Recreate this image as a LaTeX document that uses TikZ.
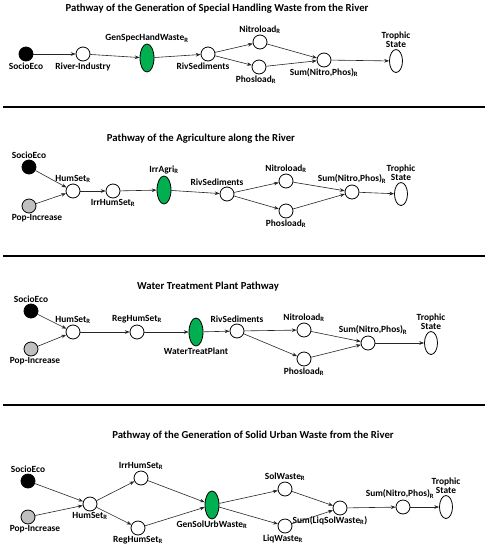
\documentclass[tikz,border=0pt]{standalone}
\usepackage{fontspec}
\setmainfont{Carlito}
\usepackage{xcolor}
\usetikzlibrary{arrows.meta,shapes.geometric}
\definecolor{keygreen}{RGB}{0,176,80}
\newcommand{\sbR}{\textsubscript{R}}
\tikzset{
  blank/.style={circle, draw=black, thick, fill=white, minimum size=14pt, inner sep=0pt},
  driver/.style={blank, fill=black},
  popnode/.style={blank, fill=black!25},
  keynode/.style={ellipse, draw=black, thick, fill=keygreen,
    minimum width=14pt, minimum height=28pt, inner sep=0pt},
  trophic/.style={ellipse, draw=black, thick, fill=white,
    minimum width=13pt, minimum height=23pt, inner sep=0pt},
  lab/.style={font=\bfseries\fontsize{9.4}{9.6}\selectfont, align=center, inner sep=1pt},
  ttl/.style={font=\bfseries\fontsize{10.7}{12}\selectfont},
  arr/.style={-{Stealth[length=1.7mm]}, semithick, black!85},
  sep/.style={line width=1.3pt},
}

\begin{document}
\begin{tikzpicture}[x=1pt, y=-1pt]
  \useasboundingbox (0,0) rectangle (490,550);
  % special handling waste
  \node[ttl] (t1) at (217,9) {Pathway of the Generation of Special Handling Waste from the River};
  \node[driver, label={[lab]below:SocioEco}] (se1) at (26,54) {};
  \node[blank, label={[lab]below:River-Industry}] (ri1) at (83,54) {};
  \node[keynode, label={[lab]above:GenSpecHandWaste\sbR}] (gs1) at (147,58) {};
  \node[blank, label={[lab, xshift=-5pt]below:RivSediments}] (rs1) at (208,54) {};
  \node[blank, label={[lab]above:Nitroload\sbR}] (ni1) at (260,42) {};
  \node[blank, label={[lab, xshift=-3pt]below:Phosload\sbR}] (ph1) at (259,67) {};
  \node[blank, label={[lab]below:Sum(Nitro,Phos)\sbR}] (su1) at (324,60) {};
  \node[trophic, label={[lab]above:Trophic\\State}] (tr1) at (396,61) {};
  \draw[arr] (se1) -- (ri1);
  \draw[arr] (ri1) -- (gs1);
  \draw[arr] (gs1) -- (rs1);
  \draw[arr] (rs1) -- (ni1);
  \draw[arr] (rs1) -- (ph1);
  \draw[arr] (ni1) -- (su1);
  \draw[arr] (ph1) -- (su1);
  \draw[arr] (su1) -- (tr1);
  \coordinate (l1a) at (3,107);
  \coordinate (l1b) at (485,107);
  \draw[sep] (l1a) -- (l1b);

  % agriculture
  \node[ttl] (t2) at (201,139) {Pathway of the Agriculture along the River};
  \node[driver, label={[lab]above:SocioEco}] (se2) at (29,167) {};
  \node[popnode, label={[lab, xshift=8pt]below:Pop-Increase}] (pi2) at (29,206) {};
  \node[blank, label={[lab]above:HumSet\sbR}] (hs2) at (73,191) {};
  \node[blank, label={[lab]below:IrrHumSet\sbR}] (ih2) at (113,191) {};
  \node[keynode, label={[lab]above:IrrAgri\sbR}] (ia2) at (164,190) {};
  \node[blank, label={[lab, xshift=-10pt]above:RivSediments}] (rs2) at (227,194) {};
  \node[blank, label={[lab]above:Nitroload\sbR}] (ni2) at (286,181) {};
  \node[blank, label={[lab]below:Phosload\sbR}] (ph2) at (286,211) {};
  \node[blank, label={[lab]above:Sum(Nitro,Phos)\sbR}] (su2) at (352,192) {};
  \node[trophic, label={[lab]above:Trophic\\State}] (tr2) at (401,194) {};
  \draw[arr] (se2) -- (hs2);
  \draw[arr] (pi2) -- (hs2);
  \draw[arr] (hs2) -- (ih2);
  \draw[arr] (ih2) -- (ia2);
  \draw[arr] (ia2) -- (rs2);
  \draw[arr] (rs2) -- (ni2);
  \draw[arr] (rs2) -- (ph2);
  \draw[arr] (ni2) -- (su2);
  \draw[arr] (ph2) -- (su2);
  \draw[arr] (su2) -- (tr2);
  \coordinate (l2a) at (3,256);
  \coordinate (l2b) at (485,256);
  \draw[sep] (l2a) -- (l2b);

  % water treatment plant
  \node[ttl] (t3) at (208,287) {Water Treatment Plant Pathway};
  \node[driver, label={[lab]above:SocioEco}] (se3) at (31,311) {};
  \node[popnode, label={[lab, xshift=4pt]below:Pop-Increase}] (pi3) at (31,349) {};
  \node[blank, label={[lab]above:HumSet\sbR}] (hs3) at (73,332) {};
  \node[blank, label={[lab]above:RegHumSet\sbR}] (rh3) at (137,332) {};
  \node[keynode, label={[lab]below:WaterTreatPlant}] (wt3) at (196,332) {};
  \node[blank, label={[lab]above:RivSediments}] (rs3) at (237,331) {};
  \node[blank, label={[lab]above:Nitroload\sbR}] (ni3) at (304,330) {};
  \node[blank, label={[lab]below:Phosload\sbR}] (ph3) at (304,359) {};
  \node[blank, label={[lab, xshift=5pt]above:Sum(Nitro,Phos)\sbR}] (su3) at (368,343) {};
  \node[trophic, label={[lab]above:Trophic\\State}] (tr3) at (431,343) {};
  \draw[arr] (se3) -- (hs3);
  \draw[arr] (pi3) -- (hs3);
  \draw[arr] (hs3) -- (rh3);
  \draw[arr] (rh3) -- (wt3);
  \draw[arr] (wt3) -- (rs3);
  \draw[arr] (rs3) -- (ni3);
  \draw[arr] (rs3) -- (ph3);
  \draw[arr] (ni3) -- (su3);
  \draw[arr] (ph3) -- (su3);
  \draw[arr] (su3) -- (tr3);
  \coordinate (l3a) at (3,405);
  \coordinate (l3b) at (485,405);
  \draw[sep] (l3a) -- (l3b);

  % solid urban waste
  \node[ttl] (t4) at (253,436) {Pathway of the Generation of Solid Urban Waste from the River};
  \node[driver, label={[lab]above:SocioEco}] (se4) at (28,481) {};
  \node[popnode, label={[lab, xshift=7pt]below:Pop-Increase}] (pi4) at (28,517) {};
  \node[blank, label={[lab]below:HumSet\sbR}] (hs4) at (90,504) {};
  \node[blank, label={[lab]above:IrrHumSet\sbR}] (ih4) at (141,478) {};
  \node[blank, label={[lab]below:RegHumSet\sbR}] (rh4) at (138,528) {};
  \node[keynode, label={[lab]below:GenSolUrbWaste\sbR}] (gu4) at (212,505) {};
  \node[blank, label={[lab]above:SolWaste\sbR}] (sw4) at (285,489) {};
  \node[blank, label={[lab, xshift=-2pt]below:LiqWaste\sbR}] (lw4) at (285,526) {};
  \node[blank, label={[lab, xshift=-10pt]below:Sum(LiqSolWaste\sbR)}] (sl4) at (340,508) {};
  \node[blank, label={[lab, xshift=-3pt]above:Sum(Nitro,Phos)\sbR}] (sn4) at (403,507) {};
  \node[trophic, label={[lab]above:Trophic\\State}] (tr4) at (446,507) {};
  \draw[arr] (se4) -- (hs4);
  \draw[arr] (pi4) -- (hs4);
  \draw[arr] (hs4) -- (ih4);
  \draw[arr] (hs4) -- (rh4);
  \draw[arr] (ih4) -- (gu4);
  \draw[arr] (rh4) -- (gu4);
  \draw[arr] (gu4) -- (sw4);
  \draw[arr] (gu4) -- (lw4);
  \draw[arr] (sw4) -- (sl4);
  \draw[arr] (lw4) -- (sl4);
  \draw[arr] (sl4) -- (sn4);
  \draw[arr] (sn4) -- (tr4);
\end{tikzpicture}
\end{document}
